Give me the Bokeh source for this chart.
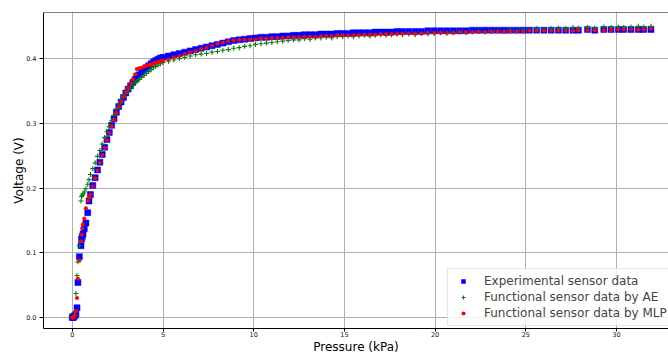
from bokeh.plotting import figure
from bokeh.models import Range1d, FixedTicker, Legend, LegendItem, Span
from bokeh.embed import file_html
from bokeh.resources import INLINE

# ---------------- data ----------------
pressure_kpa = [
    0.0, 0.03, 0.06, 0.1, 0.14, 0.2, 0.26, 0.31, 0.39, 0.48, 0.51, 0.55, 0.59, 0.66, 0.75, 0.85, 0.92,
    1.0, 1.13, 1.26, 1.39, 1.52, 1.65, 1.78, 1.91, 2.04, 2.17, 2.3, 2.43, 2.56, 2.69, 2.82, 2.95,
    3.08, 3.21, 3.34, 3.47, 3.56, 3.69, 3.82, 3.95, 4.08, 4.21, 4.34, 4.47, 4.6, 4.73, 4.86,
    5.0, 5.3, 5.6, 5.9, 6.2, 6.5, 6.8, 7.1, 7.4, 7.7, 8.0, 8.3, 8.6, 8.9, 9.2, 9.5, 9.8, 10.1,
    10.4, 10.7, 11.0, 11.3, 11.6, 11.9, 12.2, 12.5, 12.8, 13.1, 13.4, 13.7, 14.0, 14.3, 14.6, 14.9,
    15.2, 15.5, 15.8, 16.1, 16.4, 16.7, 17.0, 17.3, 17.6, 17.9,
    18.2, 18.55, 18.9, 19.25, 19.6, 19.95, 20.3, 20.65, 21.0, 21.35, 21.7, 22.05, 22.4, 22.75,
    23.1, 23.45, 23.8, 24.15, 24.5, 24.85, 25.2, 25.6, 26.0,
    26.4, 26.8, 27.2, 27.6, 27.9, 28.4, 28.8, 29.3, 29.7, 30.1, 30.4, 30.8, 31.2, 31.5, 31.9,
]

voltage_experimental = [
    0.0, 0.001, 0.0, 0.002, 0.003, 0.005, 0.015, 0.054, 0.094, 0.111, 0.121, 0.125, 0.129, 0.137, 0.146, 0.162, 0.180,
    0.190, 0.204, 0.216, 0.228, 0.240, 0.252, 0.263, 0.275, 0.286, 0.297, 0.307, 0.317, 0.326, 0.333, 0.340, 0.347,
    0.353, 0.358, 0.363, 0.368, 0.371, 0.375, 0.379, 0.383, 0.386, 0.389, 0.392, 0.395, 0.397, 0.399, 0.401,
    0.402, 0.404, 0.406, 0.408, 0.410, 0.412, 0.414, 0.416, 0.418, 0.420, 0.422, 0.424, 0.426, 0.428, 0.429, 0.430, 0.431, 0.432,
    0.433, 0.433, 0.434, 0.434, 0.435, 0.435, 0.436, 0.436, 0.437, 0.437, 0.437, 0.438, 0.438, 0.438, 0.439, 0.439,
    0.439, 0.440, 0.440, 0.440, 0.440, 0.441, 0.441, 0.441, 0.441, 0.442,
    0.442, 0.442, 0.442, 0.442, 0.443, 0.443, 0.443, 0.443, 0.443, 0.443, 0.443, 0.444, 0.444, 0.444,
    0.444, 0.444, 0.444, 0.444, 0.444, 0.444, 0.444, 0.444, 0.444,
    0.444, 0.444, 0.444, 0.444, 0.444, 0.445, 0.444, 0.445, 0.445, 0.445, 0.445, 0.445, 0.445, 0.445, 0.445,
]

voltage_ae = [
    0.0, 0.0, 0.001, 0.002, 0.008, 0.037, 0.065, 0.086, 0.111, 0.180, 0.187, 0.189, 0.191, 0.194, 0.199, 0.206, 0.213,
    0.221, 0.230, 0.239, 0.249, 0.258, 0.268, 0.278, 0.287, 0.295, 0.304, 0.313, 0.322, 0.330, 0.336, 0.341, 0.346,
    0.351, 0.355, 0.359, 0.363, 0.365, 0.368, 0.371, 0.374, 0.377, 0.380, 0.383, 0.386, 0.388, 0.390, 0.392,
    0.394, 0.396, 0.398, 0.400, 0.402, 0.404, 0.406, 0.407, 0.408, 0.410, 0.411, 0.413, 0.414, 0.416, 0.417, 0.419, 0.420, 0.422,
    0.423, 0.424, 0.425, 0.426, 0.427, 0.428, 0.429, 0.429, 0.431, 0.430, 0.432, 0.432, 0.433, 0.432, 0.434, 0.434,
    0.435, 0.434, 0.435, 0.436, 0.435, 0.436, 0.437, 0.436, 0.437, 0.438,
    0.437, 0.438, 0.437, 0.439, 0.438, 0.439, 0.440, 0.439, 0.440, 0.441, 0.440, 0.441, 0.442, 0.441,
    0.442, 0.443, 0.442, 0.444, 0.443, 0.445, 0.444, 0.446, 0.445,
    0.446, 0.447, 0.446, 0.448, 0.447, 0.448, 0.447, 0.449, 0.448, 0.449, 0.448, 0.449, 0.450, 0.449, 0.450,
]

voltage_mlp = [
    0.0, 0.0, 0.001, 0.002, 0.004, 0.010, 0.030, 0.060, 0.088, 0.118, 0.128, 0.138, 0.144, 0.153, 0.169, 0.180, 0.186,
    0.190, 0.203, 0.215, 0.227, 0.239, 0.251, 0.262, 0.274, 0.285, 0.296, 0.306, 0.316, 0.325, 0.333, 0.341, 0.348,
    0.355, 0.362, 0.368, 0.376, 0.384, 0.385, 0.386, 0.388, 0.389, 0.390, 0.391, 0.392, 0.394, 0.395, 0.396,
    0.397, 0.399, 0.402, 0.404, 0.407, 0.410, 0.412, 0.415, 0.417, 0.420, 0.423, 0.425, 0.427, 0.428, 0.429, 0.429, 0.430, 0.430,
    0.431, 0.431, 0.432, 0.432, 0.432, 0.433, 0.433, 0.433, 0.434, 0.434, 0.434, 0.435, 0.435, 0.435, 0.436, 0.436,
    0.436, 0.436, 0.437, 0.437, 0.437, 0.437, 0.438, 0.438, 0.438, 0.438,
    0.439, 0.439, 0.439, 0.439, 0.440, 0.440, 0.440, 0.440, 0.440, 0.441, 0.441, 0.441, 0.441, 0.441,
    0.442, 0.442, 0.442, 0.442, 0.442, 0.442, 0.443, 0.443, 0.443,
    0.443, 0.443, 0.443, 0.443, 0.444, 0.444, 0.444, 0.444, 0.444, 0.445, 0.445, 0.445, 0.445, 0.445, 0.446,
]

x_ticks = [0, 5, 10, 15, 20, 25, 30]
x_tick_labels = ["0", "5", "10", "15", "20", "25", "30"]
y_ticks = [0.0, 0.1, 0.2, 0.3, 0.4]
y_tick_labels = ["0.0", "0.1", "0.2", "0.3", "0.4"]

series_names = ["Experimental sensor data",
                "Functional sensor data by AE",
                "Functional sensor data by MLP"]
x_title = "Pressure (kPa)"
y_title = "Voltage (V)"

# ---------------- figure ----------------
FONT = "DejaVu Sans"
X_START, X_END = -1.588, 32.867
Y_START, Y_END = -0.017, 0.4713

p = figure(width=668, height=356, output_backend="svg", toolbar_location=None,
           x_range=Range1d(X_START, X_END), y_range=Range1d(Y_START, Y_END),
           min_border_left=43, min_border_right=0, min_border_top=12, min_border_bottom=23)
p.outline_line_color = None
p.background_fill_color = "white"
p.border_fill_color = "white"

p.xaxis.ticker = FixedTicker(ticks=x_ticks)
p.yaxis.ticker = FixedTicker(ticks=y_ticks)
p.xaxis.major_label_overrides = dict(zip(x_ticks, x_tick_labels))
p.yaxis.major_label_overrides = dict(zip(y_ticks, y_tick_labels))

for ax in (p.xaxis, p.yaxis):
    ax.major_tick_out = 4
    ax.major_tick_in = 0
    ax.minor_tick_out = 0
    ax.minor_tick_in = 0
    ax.axis_line_color = "black"
    ax.axis_line_width = 1
    ax.major_tick_line_color = "black"
    ax.major_label_text_font = FONT
    ax.major_label_text_font_size = "6.5px"
    ax.major_label_text_color = "#111111"
    ax.axis_label_text_font = FONT
    ax.axis_label_text_font_size = "12px"
    ax.axis_label_text_font_style = "normal"
    ax.axis_label_text_color = "black"
p.xaxis.major_tick_out = 3
p.xaxis.major_label_standoff = 0
p.yaxis.major_label_standoff = 3
p.yaxis.axis_label = y_title
p.yaxis.axis_label_standoff = -3
p.xaxis.axis_label = x_title
p.xaxis.axis_label_standoff = 0

for g in (p.xgrid, p.ygrid):
    g.grid_line_color = "#b0b0b0"
    g.grid_line_width = 1

# top spine
p.add_layout(Span(location=Y_END, dimension="width", line_color="black", line_width=1))

r_exp = p.scatter(pressure_kpa, voltage_experimental, marker="square", size=6,
                  fill_color="#0000ff", line_color="#0000ff", line_width=0.5)
r_ae = p.scatter(pressure_kpa, voltage_ae, marker="cross", size=5,
                 line_color="#008000", line_width=1.1)
r_mlp = p.scatter(pressure_kpa, voltage_mlp, marker="circle", size=4,
                  fill_color="#ff0000", line_color=None)

legend = Legend(items=[LegendItem(label=series_names[0], renderers=[r_exp]),
                       LegendItem(label=series_names[1], renderers=[r_ae]),
                       LegendItem(label=series_names[2], renderers=[r_mlp])],
                location=(404, 2), padding=4, spacing=0,
                glyph_width=22, glyph_height=10, label_height=16, label_standoff=10,
                label_text_font=FONT, label_text_font_size="12px",
                border_line_color="#cccccc", border_line_width=1,
                background_fill_color="white", background_fill_alpha=0.8)
p.add_layout(legend)

open("out.html", "w").write(file_html(p, INLINE))
